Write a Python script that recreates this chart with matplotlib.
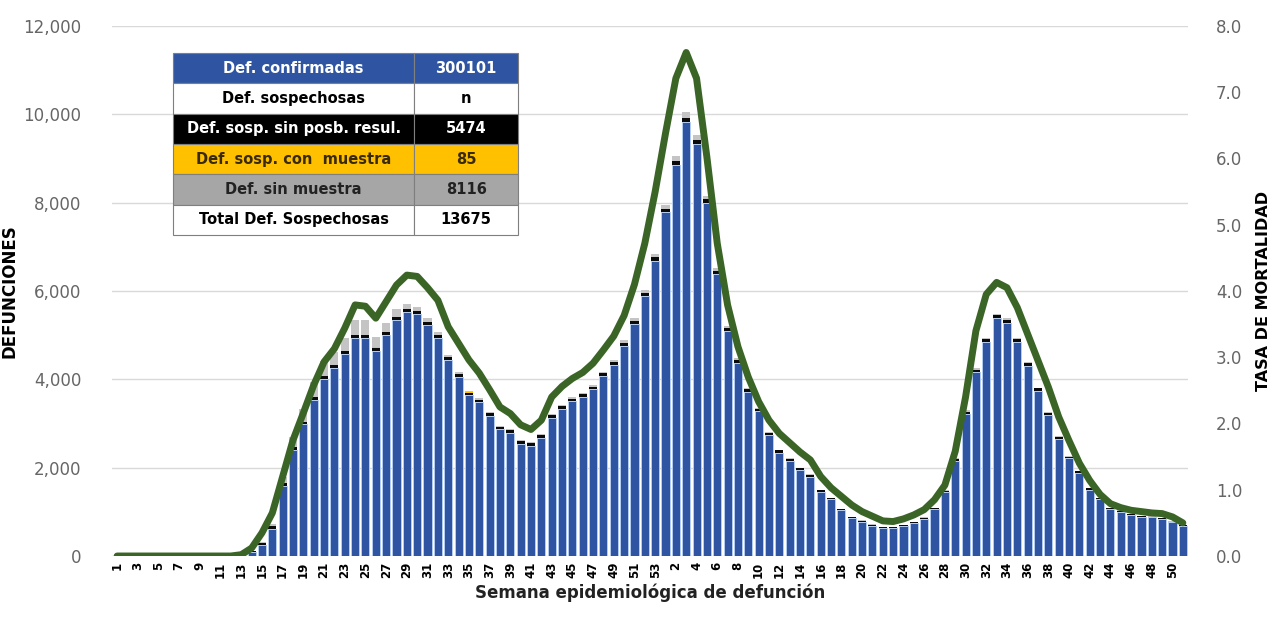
import matplotlib
matplotlib.use('Agg')
import matplotlib.pyplot as plt
import numpy as np

# semanas: 2020 (1-53) y 2021 (1-51)
weeks_2020 = list(range(1, 54))
weeks_2021 = list(range(1, 52))

conf_2020 = [0, 0, 0, 0, 0, 0, 0, 0, 0, 0, 0, 5, 25,
             100, 260, 620, 1590, 2400, 2980, 3530, 4000, 4250, 4570,
             4930, 4930, 4650, 5010, 5350, 5520, 5480, 5230, 4940, 4430,
             4050, 3640, 3480, 3180, 2870, 2790, 2540, 2500, 2680, 3130,
             3330, 3500, 3600, 3770, 4070, 4320, 4760, 5260, 5880, 6690]
conf_2021 = [7780, 8860, 9830, 9330, 8000, 6380, 5100, 4370, 3710, 3280,
             2740, 2340, 2150, 1940, 1800, 1460, 1280, 1035, 850, 775,
             690, 630, 630, 675, 745, 845, 1060, 1450, 2150, 3220,
             4160, 4840, 5390, 5280, 4840, 4310, 3740, 3190, 2650, 2210,
             1880, 1500, 1280, 1060, 1005, 930, 890, 875, 840, 765, 690]

sin_res_2020 = [0] * 13 + [10, 30, 50, 60, 70, 60, 70, 70, 70, 70,
                           70, 70, 70, 70, 70, 70, 70, 70, 70, 70,
                           65, 60, 60, 60, 55, 55, 55, 55, 55, 60,
                           60, 60, 60, 60, 65, 65, 70, 70, 75, 80]
sin_res_2021 = [80, 90, 90, 90, 80, 75, 70, 65, 60, 55,
                50, 50, 45, 45, 40, 35, 30, 30, 25, 25,
                20, 20, 20, 20, 20, 20, 25, 30, 40, 50,
                60, 65, 70, 70, 65, 60, 55, 50, 45, 40,
                35, 30, 25, 20, 20, 15, 15, 15, 15, 12, 12]

con_muestra_2020 = [0] * 17 + [2] * 18 + [0] * 18
con_muestra_2021 = [2] * 8 + [0] * 43

sin_muestra_2020 = [0] * 13 + [5, 20, 60, 150, 220, 280, 330, 350, 300, 290,
                               340, 340, 240, 200, 160, 110, 90, 80, 60, 50,
                               40, 35, 30, 25, 25, 25, 25, 25, 30, 30,
                               30, 35, 35, 40, 40, 45, 50, 55, 60, 70]
sin_muestra_2021 = [80, 110, 130, 110, 80, 60, 45, 35, 30, 25,
                    20, 20, 15, 15, 15, 10, 10, 10, 10, 10,
                    10, 10, 10, 10, 10, 10, 10, 15, 20, 25,
                    30, 30, 30, 30, 25, 25, 20, 20, 15, 15,
                    10, 10, 10, 10, 10, 10, 10, 10, 10, 10, 10]

tasa_2020 = [0, 0, 0, 0, 0, 0, 0, 0, 0, 0, 0, 0, 0.02,
             0.12, 0.35, 0.65, 1.2, 1.75, 2.16, 2.58, 2.93, 3.13, 3.44,
             3.79, 3.77, 3.59, 3.84, 4.09, 4.24, 4.22, 4.05, 3.86, 3.46,
             3.21, 2.96, 2.76, 2.51, 2.25, 2.15, 1.98, 1.91, 2.05, 2.40,
             2.56, 2.68, 2.77, 2.91, 3.11, 3.32, 3.63, 4.10, 4.72, 5.50]
tasa_2021 = [6.38, 7.21, 7.60, 7.21, 6.02, 4.72, 3.79, 3.16, 2.70, 2.33,
             2.05, 1.85, 1.71, 1.57, 1.45, 1.20, 1.03, 0.90, 0.77, 0.67,
             0.60, 0.53, 0.52, 0.56, 0.62, 0.70, 0.85, 1.07, 1.58, 2.40,
             3.40, 3.95, 4.13, 4.05, 3.75, 3.35, 2.95, 2.55, 2.10, 1.74,
             1.40, 1.14, 0.93, 0.79, 0.73, 0.69, 0.67, 0.65, 0.64, 0.59, 0.50]

table_rows = ['Def. confirmadas', 'Def. sospechosas', 'Def. sosp. sin posb. resul.',
              'Def. sosp. con  muestra', 'Def. sin muestra', 'Total Def. Sospechosas']
table_vals = ['300101', 'n', '5474', '85', '8116', '13675']

BLUE = '#2f55a2'
GREEN = '#3b6526'

weeks = weeks_2020 + weeks_2021
conf = np.array(conf_2020 + conf_2021)
black = np.array(sin_res_2020 + sin_res_2021)
yellow = np.array(con_muestra_2020 + con_muestra_2021)
grey = np.array(sin_muestra_2020 + sin_muestra_2021)
tasa = np.array(tasa_2020 + tasa_2021)
x = np.arange(len(weeks))

fig = plt.figure(figsize=(12.78, 6.25), dpi=100)
ax = fig.add_axes([0.0876, 0.1104, 0.842, 0.848])

w = 0.78
ax.bar(x, conf, w, color=BLUE, edgecolor='#b4cdf0', linewidth=0.7, zorder=2)
ax.bar(x, black, w, bottom=conf, color='#0a0a0a', linewidth=0, zorder=2)
ax.bar(x, yellow, w, bottom=conf + black, color='#ffc000', linewidth=0, zorder=2)
ax.bar(x, grey, w, bottom=conf + black + yellow, color='#c4c4c4', linewidth=0, zorder=2)

ax.set_ylim(0, 12000)
ax.set_xlim(-0.5, len(weeks) - 0.5)
ax.set_yticks(np.arange(0, 12001, 2000))
ax.set_yticklabels(['{:,.0f}'.format(v) for v in np.arange(0, 12001, 2000)],
                   fontsize=12, color='#666666')
ax.grid(axis='y', color='#d9d9d9', linewidth=1, zorder=0)
ax.set_axisbelow(True)

ticks = [i for i in x if (i < 53 and weeks[i] % 2 == 1) or (i >= 53 and weeks[i] % 2 == 0)]
ax.set_xticks(ticks)
ax.set_xticklabels([str(weeks[i]) for i in ticks], rotation=90, fontsize=8.5,
                   fontweight='bold')
ax.tick_params(axis='both', length=0)
ax.tick_params(axis='y', pad=22)
ax.tick_params(axis='x', pad=4)
for s in ax.spines.values():
    s.set_visible(False)

ax.set_ylabel('DEFUNCIONES', fontsize=12, fontweight='bold')
ax.yaxis.set_label_coords(-0.087, 0.5)
ax.set_xlabel('Semana epidemiológica de defunción', fontsize=12,
              fontweight='bold', color='#222222', labelpad=4)

ax2 = ax.twinx()
ax2.plot(x, tasa, color=GREEN, linewidth=5, solid_joinstyle='round',
         solid_capstyle='round', zorder=3)
ax2.set_ylim(0, 8)
ax2.set_yticks(np.arange(0, 8.1, 1))
ax2.set_yticklabels(['{:.1f}'.format(v) for v in np.arange(0, 8.1, 1)],
                    fontsize=12, color='#666666')
ax2.tick_params(axis='y', length=0, pad=20)
for s in ax2.spines.values():
    s.set_visible(False)
ax2.set_ylabel('TASA DE MORTALIDAD', fontsize=11.5, fontweight='bold')
ax2.yaxis.set_label_coords(1.063, 0.5)

row_bg = ['#2f55a2', 'white', 'black', '#ffc000', '#a6a6a6', 'white']
row_fg = ['white', 'black', 'white', '#3a2a00', '#222222', 'black']
tbl = ax2.table(cellText=[[r, v] for r, v in zip(table_rows, table_vals)],
                cellColours=[[c, c] for c in row_bg],
                colWidths=[0.70, 0.30], cellLoc='center',
                bbox=[0.0567, 0.6057, 0.3206, 0.343])
tbl.auto_set_font_size(False)
for (r, c), cell in tbl.get_celld().items():
    cell.set_edgecolor('#7f7f7f')
    cell.set_linewidth(0.8)
    cell.get_text().set_fontsize(10.5)
    cell.get_text().set_fontweight('bold')
    cell.get_text().set_color(row_fg[r])
tbl.set_zorder(5)

fig.savefig('out.png', dpi=100)
